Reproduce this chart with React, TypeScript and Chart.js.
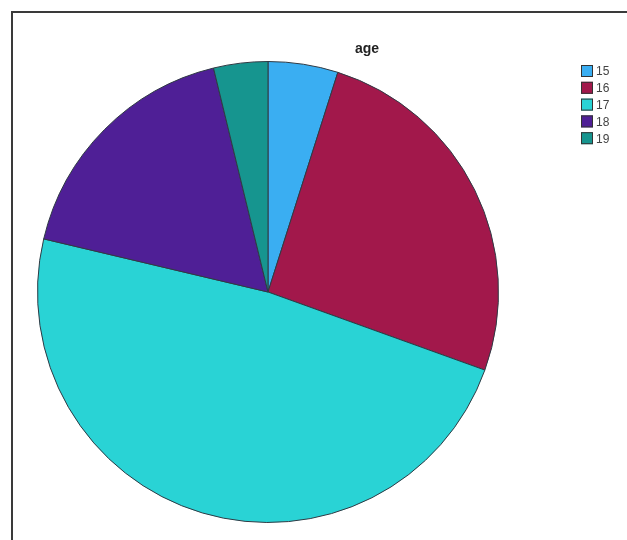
import React, { useEffect, useRef } from "react";
import { Chart, registerables } from "chart.js";

Chart.register(...registerables);

const categories = ["15", "16", "17", "18", "19"];
const values = [4.9, 25.6, 48.2, 17.5, 3.8];
const colors = ["#3aaef2", "#a2184b", "#29d3d5", "#4f1f96", "#16958f"];
const titleText = "age";

const overlayPlugin = {
  id: "overlay",
  afterDraw(chart: any) {
    const ctx = chart.ctx as CanvasRenderingContext2D;
    ctx.save();
    // frame
    ctx.strokeStyle = "#3a3a3a";
    ctx.lineWidth = 2;
    ctx.beginPath();
    ctx.moveTo(12, 540);
    ctx.lineTo(12, 12);
    ctx.lineTo(627, 12);
    ctx.stroke();
    // title
    ctx.fillStyle = "#222";
    ctx.font = "bold 14px 'Liberation Sans', Arial, sans-serif";
    ctx.textAlign = "center";
    ctx.textBaseline = "middle";
    ctx.fillText(titleText, 367, 49);
    // legend
    ctx.font = "12px 'Liberation Sans', Arial, sans-serif";
    ctx.textAlign = "left";
    categories.forEach((c, i) => {
      const cy = 71 + i * 16.8;
      ctx.fillStyle = colors[i];
      ctx.fillRect(581, cy - 6, 12, 12);
      ctx.strokeStyle = "#333";
      ctx.lineWidth = 1;
      ctx.strokeRect(581.5, cy - 5.5, 11, 11);
      ctx.fillStyle = "#444";
      ctx.fillText(c, 596, cy + 1);
    });
    ctx.restore();
  },
};

export default function App() {
  const ref = useRef<HTMLCanvasElement>(null);
  useEffect(() => {
    document.body.style.margin = "0";
    const chart = new Chart(ref.current!, {
      type: "pie",
      data: {
        labels: categories,
        datasets: [
          {
            data: values,
            backgroundColor: colors,
            borderColor: "#2f3a44",
            borderWidth: 1,
          },
        ],
      },
      options: {
        animation: false,
        responsive: false,
        maintainAspectRatio: false,
        layout: { padding: { left: 37, right: 128, top: 61, bottom: 17 } },
        plugins: {
          legend: { display: false },
          title: { display: false },
          tooltip: { enabled: false },
        },
      },
      plugins: [overlayPlugin],
    });
    return () => chart.destroy();
  }, []);
  return (
    <div style={{ width: 627, height: 540, background: "#fff" }}>
      <canvas ref={ref} width={627} height={540} style={{ width: 627, height: 540, display: "block" }} />
    </div>
  );
}
